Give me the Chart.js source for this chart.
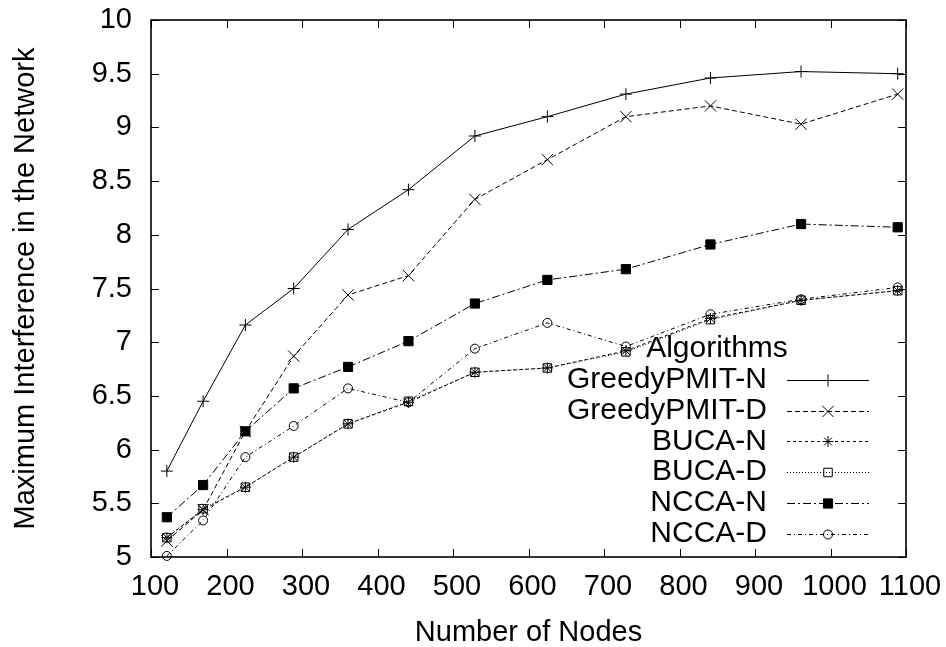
<!DOCTYPE html>
<html>
<head>
<meta charset="utf-8">
<script src="https://cdn.jsdelivr.net/npm/chart.js@4.4.1/dist/chart.umd.min.js"></script>
<style>
  html, body { margin: 0; padding: 0; background: #fff; }
  #wrap { width: 946px; height: 647px; }
</style>
</head>
<body>
<div id="wrap"><canvas id="c" width="946" height="647"></canvas></div>
<script>
// ---- data ----
const nodes = [121, 169, 225, 289, 361, 441, 529, 625, 729, 841, 961, 1089];
const greedyPmitN = [5.80, 6.45, 7.16, 7.50, 8.05, 8.42, 8.92, 9.10, 9.31, 9.46, 9.52, 9.50];
const greedyPmitD = [5.15, 5.44, 6.17, 6.87, 7.44, 7.62, 8.33, 8.70, 9.10, 9.20, 9.03, 9.31];
const bucaN = [5.18, 5.44, 5.65, 5.93, 6.24, 6.44, 6.72, 6.76, 6.92, 7.22, 7.39, 7.48];
const bucaD = [5.18, 5.45, 5.65, 5.93, 6.24, 6.45, 6.72, 6.76, 6.91, 7.21, 7.39, 7.48];
const nccaN = [5.37, 5.67, 6.17, 6.57, 6.77, 7.01, 7.36, 7.58, 7.68, 7.91, 8.10, 8.07];
const nccaD = [5.01, 5.34, 5.93, 6.22, 6.57, 6.44, 6.94, 7.18, 6.96, 7.26, 7.40, 7.51];
const seriesNames = ['GreedyPMIT-N', 'GreedyPMIT-D', 'BUCA-N', 'BUCA-D', 'NCCA-N', 'NCCA-D'];
const xTickLabels = ['100','200','300','400','500','600','700','800','900','1000','1100'];
const yTickLabels = ['5','5.5','6','6.5','7','7.5','8','8.5','9','9.5','10'];
const xTitle = 'Number of Nodes';
const yTitle = 'Maximum Interference in the Network';
const legendTitle = 'Algorithms';

const FONT = '"Liberation Sans", Arial, Helvetica, sans-serif';

function pts(ys) { return nodes.map((x, i) => ({ x: x, y: ys[i] })); }

const styles = [
  { dash: [],            pointStyle: 'cross',    radius: 6,   fill: 'rgba(0,0,0,0)' },
  { dash: [5, 3],        pointStyle: 'crossRot', radius: 8,   fill: 'rgba(0,0,0,0)' },
  { dash: [3, 3],        pointStyle: 'star',     radius: 5.5, fill: 'rgba(0,0,0,0)' },
  { dash: [1, 2],        pointStyle: 'rect',     radius: 6,   fill: 'rgba(0,0,0,0)' },
  { dash: [8, 3, 2, 3],  pointStyle: 'rect',     radius: 6.5, fill: '#000' },
  { dash: [4, 3, 1, 3],  pointStyle: 'circle',   radius: 4.5, fill: 'rgba(0,0,0,0)' }
];
const allSeries = [greedyPmitN, greedyPmitD, bucaN, bucaD, nccaN, nccaD];

const datasets = allSeries.map((ys, i) => ({
  label: seriesNames[i],
  data: pts(ys),
  borderColor: '#000',
  backgroundColor: styles[i].fill,
  borderWidth: 1,
  borderDash: styles[i].dash,
  pointStyle: styles[i].pointStyle,
  pointRadius: styles[i].radius,
  pointBorderColor: '#000',
  pointBackgroundColor: styles[i].fill,
  pointBorderWidth: 1,
  tension: 0,
  fill: false,
  clip: false
}));

// frame + inward ticks on all four sides (gnuplot style)
const framePlugin = {
  id: 'frame',
  afterDraw(chart) {
    const { ctx, chartArea: a, scales } = chart;
    ctx.save();
    ctx.strokeStyle = '#000';
    ctx.setLineDash([]);
    ctx.lineWidth = 1;
    const tl = 8;
    scales.x.ticks.forEach(t => {
      const px = Math.round(scales.x.getPixelForValue(t.value)) + 0.5;
      ctx.beginPath();
      ctx.moveTo(px, a.bottom); ctx.lineTo(px, a.bottom - tl);
      ctx.moveTo(px, a.top); ctx.lineTo(px, a.top + tl);
      ctx.stroke();
    });
    scales.y.ticks.forEach(t => {
      const py = Math.round(scales.y.getPixelForValue(t.value)) + 0.5;
      ctx.beginPath();
      ctx.moveTo(a.left, py); ctx.lineTo(a.left + tl, py);
      ctx.moveTo(a.right, py); ctx.lineTo(a.right - tl, py);
      ctx.stroke();
    });
    ctx.lineWidth = 1.6;
    ctx.strokeRect(a.left, a.top, a.right - a.left, a.bottom - a.top);
    ctx.restore();
  }
};

// gnuplot-like key: right-aligned labels with line samples on the right
const keyPlugin = {
  id: 'gkey',
  afterDraw(chart) {
    const { ctx } = chart;
    ctx.save();
    ctx.fillStyle = '#000';
    ctx.font = '30px ' + FONT;
    ctx.textBaseline = 'middle';
    ctx.textAlign = 'center';
    ctx.fillText(legendTitle, 717, 349);
    ctx.textAlign = 'right';
    chart.data.datasets.forEach((ds, i) => {
      const y = 380 + i * 30.7;
      ctx.fillStyle = '#000';
      ctx.fillText(ds.label, 767, y);
      ctx.strokeStyle = '#000';
      ctx.lineWidth = 1;
      ctx.setLineDash(ds.borderDash);
      ctx.beginPath();
      ctx.moveTo(787, Math.round(y) + 0.5);
      ctx.lineTo(869, Math.round(y) + 0.5);
      ctx.stroke();
      ctx.setLineDash([]);
      ctx.fillStyle = ds.pointBackgroundColor;
      Chart.helpers.drawPoint(ctx, {
        pointStyle: ds.pointStyle, radius: ds.pointRadius, rotation: 0, borderWidth: 1
      }, 828, Math.round(y) + 0.5);
    });
    ctx.restore();
  }
};

new Chart(document.getElementById('c'), {
  type: 'line',
  data: { datasets: datasets },
  plugins: [framePlugin, keyPlugin],
  options: {
    responsive: false,
    animation: false,
    devicePixelRatio: 1,
    layout: { padding: { top: 20, right: 40, left: 0, bottom: 0 } },
    plugins: { legend: { display: false }, tooltip: { enabled: false } },
    scales: {
      x: {
        type: 'linear',
        min: 100, max: 1100,
        afterFit(s) { s.height = 90; s.paddingLeft = 0; s.paddingRight = 0; },
        grid: { display: false, drawTicks: false },
        border: { display: false },
        ticks: {
          stepSize: 100,
          padding: 13,
          labelOffset: 4,
          color: '#000',
          font: { family: FONT, size: 29 },
          maxRotation: 0,
          autoSkip: false,
          callback: (v) => xTickLabels[Math.round((v - 100) / 100)]
        },
        title: {
          display: true, text: xTitle, color: '#000',
          font: { family: FONT, size: 29, lineHeight: 1.0 },
          padding: { top: 0, bottom: 0 }
        }
      },
      y: {
        type: 'linear',
        min: 5, max: 10,
        afterFit(s) { s.width = 151; s.paddingTop = 0; s.paddingBottom = 0; },
        grid: { display: false, drawTicks: false },
        border: { display: false },
        ticks: {
          stepSize: 0.5,
          padding: 19,
          color: '#000',
          font: { family: FONT, size: 29 },
          autoSkip: false,
          callback: (v) => yTickLabels[Math.round((v - 5) / 0.5)]
        },
        title: {
          display: true, text: yTitle, color: '#000',
          font: { family: FONT, size: 29, lineHeight: 1.0 },
          padding: { top: 11, bottom: 0 }
        }
      }
    }
  }
});
</script>
</body>
</html>
